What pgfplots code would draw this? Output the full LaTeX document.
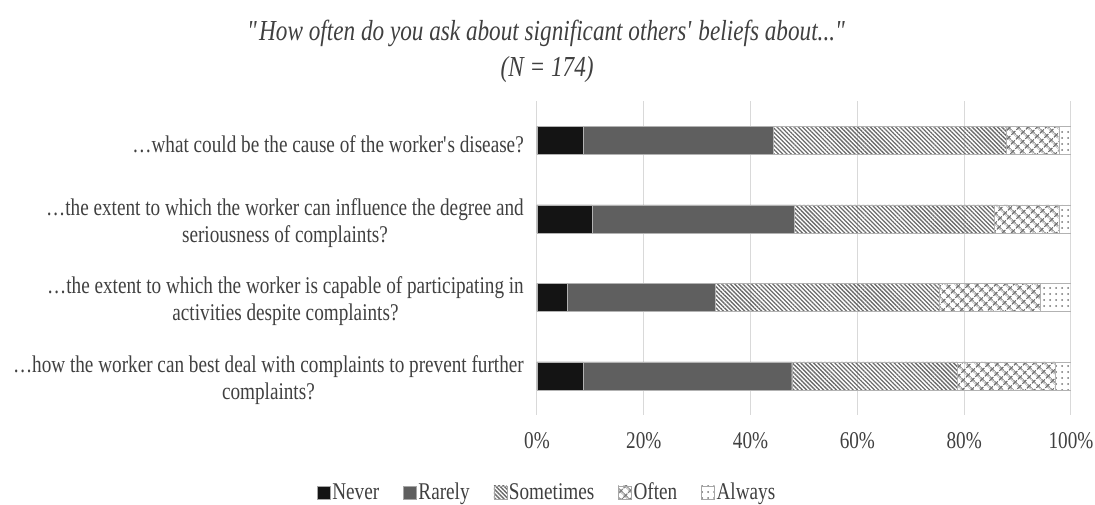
\documentclass[border=0pt]{standalone}
\usepackage{fontspec}
\setmainfont{Liberation Serif}[FakeStretch=0.8]
\usepackage{pgfplots}
\pgfplotsset{compat=1.18}
\usetikzlibrary{patterns.meta}
\definecolor{gridc}{HTML}{D9D9D9}
\definecolor{rarelyc}{HTML}{5F5F5F}
\begin{document}
\begin{tikzpicture}
\begin{axis}[
  xbar stacked,
  scale only axis,
  width=534pt, height=314pt,
  xmin=0, xmax=100,
  ymin=-0.5, ymax=3.5,
  y dir=reverse,
  bar width=28pt,
  xtick={0,20,40,60,80,100},
  xticklabels={0\%,20\%,40\%,60\%,80\%,100\%},
  ytick={0,1,2,3},
  yticklabels={
    {…what could be the cause of the worker\textquotesingle s disease?},
    {…the extent to which the worker can influence the degree and\\seriousness of complaints?},
    {…the extent to which the worker is capable of participating in\\activities despite complaints?},
    {…how the worker can best deal with complaints to prevent further\\complaints?}},
  yticklabel style={align=center, inner sep=0pt, xshift=-13pt, yshift=-4pt, font=\fontsize{24}{27}\selectfont, text=black!75},
  xticklabel style={inner sep=0pt, yshift=-17pt, font=\fontsize{24}{27}\selectfont, text=black!75},
  /pgf/number format/assume math mode=true,
  xmajorgrids,
  major grid style={gridc, line width=1pt},
  axis line style={draw=none},
  major tick style={draw=none},
  title={\textquotedbl How often do you ask about significant others\textquotesingle\ beliefs about...\textquotedbl\\(N = 174)},
  title style={align=center, font=\fontsize{29}{36}\selectfont\itshape, text=black!75, at={(axis description cs:0.019,1)}, anchor=south, yshift=9pt},
  legend style={at={(axis description cs:0.019,-0.245)}, anchor=center, draw=none, legend columns=5, font=\fontsize{24}{27}\selectfont, text=black!75, /tikz/every even column/.append style={column sep=22pt}, inner sep=0pt},
  legend image code/.code={\draw[#1, draw=gray!70] (-2pt,-7pt) rectangle (11pt,6pt);},
]
\addplot[fill=black!92, draw=gray!60, line width=0.3pt] coordinates {(8.6,0) (10.3,1) (5.7,2) (8.6,3)};
\addplot[fill=rarelyc, draw=gray!60, line width=0.3pt] coordinates {(35.6,0) (37.9,1) (27.6,2) (39.1,3)};
\addplot[pattern={Lines[angle=-45,distance=3pt,line width=1.3pt]}, pattern color=black!58, draw=gray!60, line width=0.3pt] coordinates {(43.7,0) (37.4,1) (42.0,2) (31.0,3)};
\addplot[pattern={Hatch[angle=45,distance=6.5pt,line width=1.5pt]}, pattern color=black!55, draw=gray!60, line width=0.3pt] coordinates {(9.8,0) (12.1,1) (19.0,2) (18.4,3)};
\addplot[pattern={Dots[distance=6pt,radius=1pt]}, pattern color=black!55, draw=gray!60, line width=0.3pt] coordinates {(2.3,0) (2.3,1) (5.7,2) (2.9,3)};
\legend{Never,Rarely,Sometimes,Often,Always}
\end{axis}
\pgfresetboundingbox
\path[use as bounding box] ([shift={(-537pt,-89pt)}]current axis.south west) rectangle ([shift={(558pt,415pt)}]current axis.south west);
\end{tikzpicture}
\end{document}
